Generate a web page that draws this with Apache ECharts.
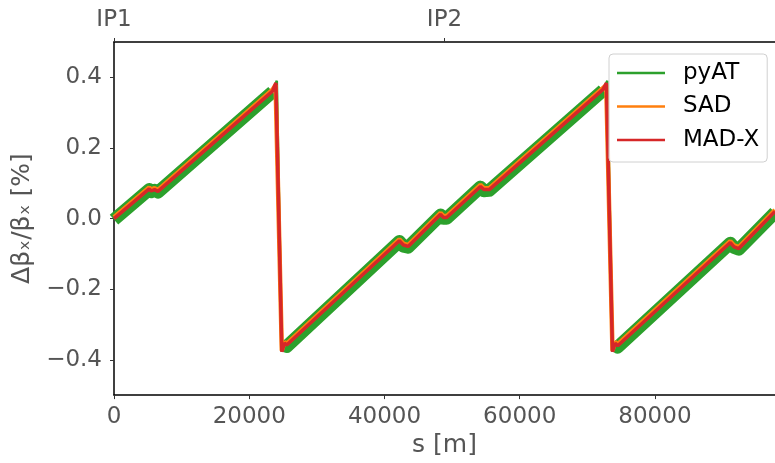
<!DOCTYPE html>
<html><head><meta charset="utf-8">
<script src="https://cdn.jsdelivr.net/npm/echarts@6/dist/echarts.min.js"></script>
<style>html,body{margin:0;padding:0;background:#fff}#c{width:775px;height:463px}</style>
</head><body><div id="c"></div>
<script>
// ---- data ----
const circumference = 97756;
const xTickValues = [0, 20000, 40000, 60000, 80000];
const yTickValues = [-0.4, -0.2, 0.0, 0.2, 0.4];
const topTickValues = [0, 48878];
const topTickLabels = ['IP1', 'IP2'];

// MAD-X (red)
const madxS = [0, 5200, 5500, 6000, 6500, 23450, 23940, 24820, 25210, 25550, 42200, 42800, 43500, 48300, 48700, 49200, 54200, 54700, 55500, 72330, 72820, 73720, 74100, 74500, 91150, 91700, 92400, 97756];
const madxY = [0.000, 0.084, 0.078, 0.082, 0.077, 0.361, 0.384, -0.377, -0.353, -0.358, -0.063, -0.075, -0.079, 0.012, 0.003, 0.003, 0.091, 0.082, 0.082, 0.366, 0.384, -0.377, -0.353, -0.360, -0.068, -0.080, -0.085, 0.020];

// SAD (orange)
const sadS = [0, 5200, 5500, 6000, 6500, 23450, 23900, 24820, 25210, 25550, 42200, 42800, 43500, 48300, 48700, 49200, 54200, 54700, 55500, 72330, 72800, 73720, 74100, 74500, 91150, 91700, 92400, 97756];
const sadY = [0.004, 0.088, 0.082, 0.086, 0.081, 0.365, 0.378, -0.374, -0.350, -0.354, -0.059, -0.071, -0.075, 0.016, 0.007, 0.007, 0.095, 0.086, 0.086, 0.370, 0.378, -0.374, -0.350, -0.356, -0.064, -0.076, -0.081, 0.024];

// pyAT (green) ramps, broken at the jumps
const pyatS = [0, 5200, 5500, 6000, 6500, 23450, null, 25210, 25550, 42200, 42800, 43500, 48300, 48700, 49200, 54200, 54700, 55500, 72330, null, 74100, 74500, 91150, 91700, 92400, 97756];
const pyatY = [-0.003, 0.082, 0.076, 0.080, 0.075, 0.359, null, -0.358, -0.362, -0.065, -0.078, -0.081, 0.010, 0.001, 0.001, 0.089, 0.079, 0.080, 0.363, null, -0.358, -0.364, -0.070, -0.082, -0.087, 0.017];
// pyAT (green) at the jumps
const pyatJumpS = [23450, 24080, 24820, 25210, null, 72330, 72960, 73720, 74100];
const pyatJumpY = [0.360, 0.390, -0.377, -0.356, null, 0.364, 0.390, -0.377, -0.356];

// ---- chart ----
const FONT = 'DejaVu Sans';
const pairs = (xs, ys) => xs.map((x, i) => [x, ys[i]]);
const minus = v => String(v).replace('-', '\u2212');

const chart = echarts.init(document.getElementById('c'), null, {renderer: 'canvas'});
const axisLineStyle = {color: '#000', width: 1.5};
const tickStyle = {color: '#333', width: 1};

chart.setOption({
  animation: false,
  backgroundColor: '#fff',
  textStyle: {fontFamily: FONT},
  grid: {left: 114, top: 42, width: 666, height: 356, containLabel: false},
  legend: {
    data: ['pyAT', 'SAD', 'MAD-X'],
    orient: 'vertical', left: 609, top: 54,
    padding: [6, 8, 9, 8], itemGap: 7.5,
    itemWidth: 48, itemHeight: 2.5, icon: 'rect',
    textStyle: {fontSize: 23, color: '#000', fontFamily: FONT, lineHeight: 26, padding: [0, 0, 0, 13]},
    backgroundColor: 'rgba(255,255,255,0.85)', borderColor: '#d0d0d0', borderWidth: 1, borderRadius: 4
  },
  xAxis: [{
    type: 'value', position: 'bottom', min: 0, max: circumference,
    axisLine: {show: true, onZero: false, lineStyle: axisLineStyle},
    axisTick: {show: true, length: 4, lineStyle: tickStyle, customValues: xTickValues},
    axisLabel: {fontSize: 23, color: '#555', margin: 10, fontFamily: FONT, customValues: xTickValues,
      formatter: v => String(v)},
    splitLine: {show: false},
    name: 's [m]', nameLocation: 'middle', nameGap: 36,
    nameTextStyle: {fontSize: 25, color: '#555', fontFamily: FONT}
  }, {
    type: 'value', position: 'top', min: 0, max: circumference,
    axisLine: {show: true, onZero: false, lineStyle: axisLineStyle},
    axisTick: {show: true, length: 4, lineStyle: tickStyle, customValues: topTickValues},
    axisLabel: {fontSize: 23, color: '#555', margin: 10, fontFamily: FONT, customValues: topTickValues,
      formatter: v => { const i = topTickValues.indexOf(v); return i >= 0 ? topTickLabels[i] : ''; }},
    splitLine: {show: false}
  }],
  yAxis: {
    type: 'value', min: -0.5, max: 0.5,
    axisLine: {show: true, onZero: false, lineStyle: axisLineStyle},
    axisTick: {show: true, length: 4, lineStyle: tickStyle, customValues: yTickValues},
    axisLabel: {fontSize: 23, color: '#555', margin: 12, fontFamily: FONT, customValues: yTickValues,
      formatter: v => minus(Number(v).toFixed(1))},
    splitLine: {show: false},
    name: 'Δβₓ/βₓ [%]', nameLocation: 'middle', nameGap: 72, nameRotate: 90,
    nameTextStyle: {fontSize: 25, color: '#555', fontFamily: FONT}
  },
  series: [
    {name: 'pyAT', type: 'line', data: pairs(pyatS, pyatY), showSymbol: false, symbol: 'none',
     connectNulls: false, color: '#2ca02c', itemStyle: {color: '#2ca02c'},
     lineStyle: {color: '#2ca02c', width: 13, join: 'round'}, z: 1},
    {name: 'pyAT', type: 'line', data: pairs(pyatJumpS, pyatJumpY), showSymbol: false, symbol: 'none',
     connectNulls: false, color: '#2ca02c', itemStyle: {color: '#2ca02c'},
     lineStyle: {color: '#2ca02c', width: 2.5}, z: 1},
    {name: 'SAD', type: 'line', data: pairs(sadS, sadY), showSymbol: false, symbol: 'none',
     color: '#ff7f0e', itemStyle: {color: '#ff7f0e'},
     lineStyle: {color: '#ff7f0e', width: 4.5}, z: 2},
    {name: 'MAD-X', type: 'line', data: pairs(madxS, madxY), showSymbol: false, symbol: 'none',
     color: '#d62728', itemStyle: {color: '#d62728'},
     lineStyle: {color: '#d62728', width: 3.5}, z: 3}
  ]
});
</script>
</body></html>
